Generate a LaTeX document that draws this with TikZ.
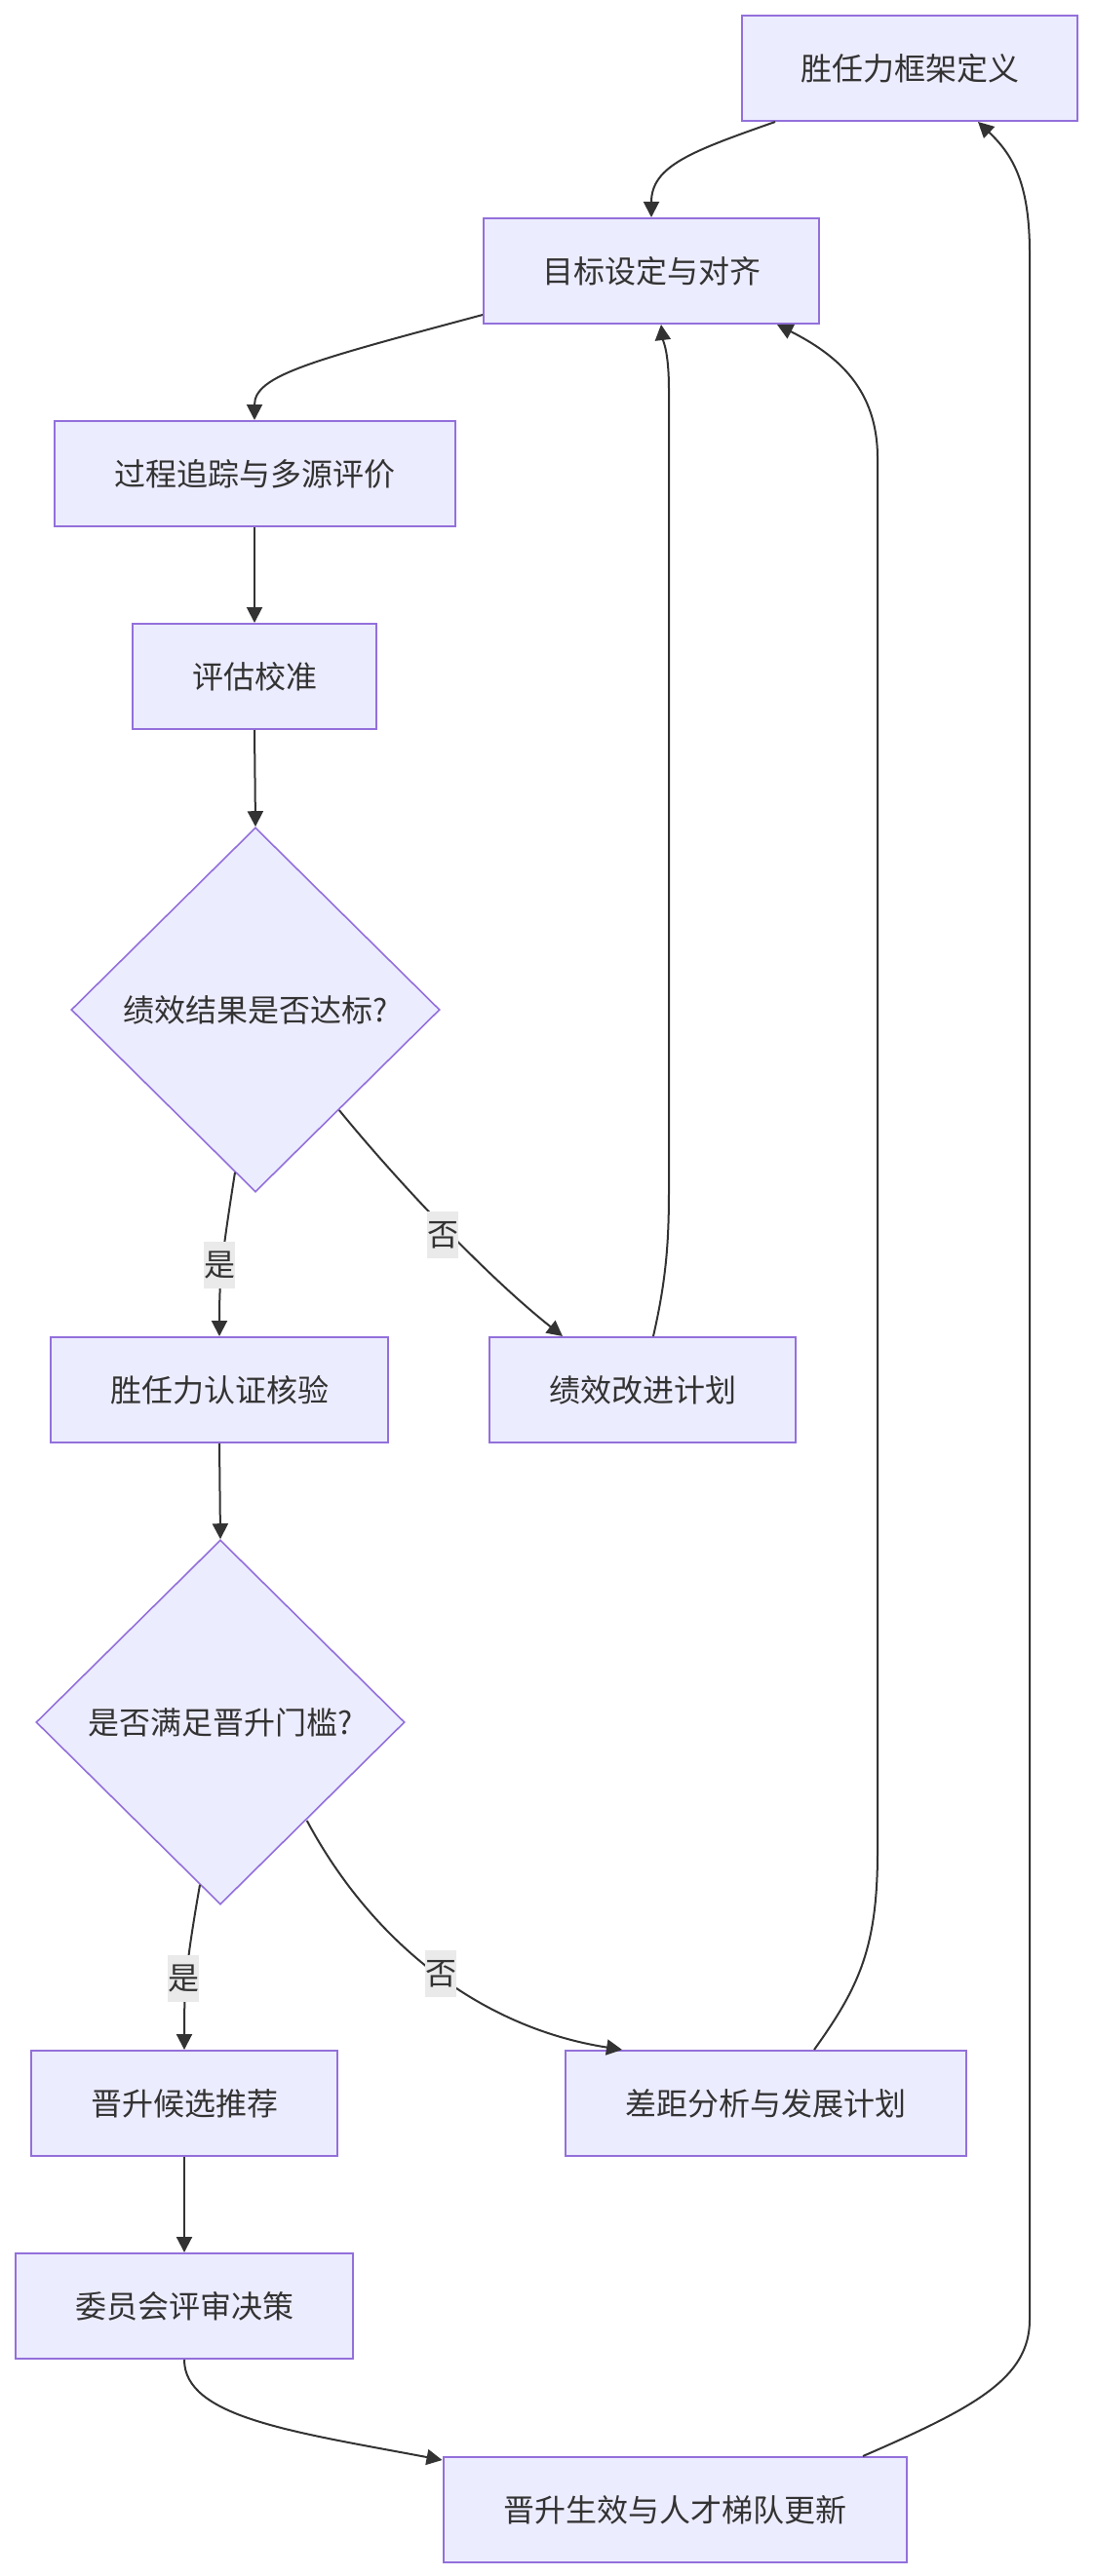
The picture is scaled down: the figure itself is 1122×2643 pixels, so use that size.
\documentclass[tikz,border=0pt]{standalone}
\usepackage{fontspec}
\newfontfamily\cjk{Noto Sans CJK SC}
\usetikzlibrary{shapes.geometric,arrows.meta,calc}
\definecolor{nodefill}{HTML}{ECECFF}
\definecolor{nodeborder}{HTML}{9370DB}
\definecolor{linecol}{HTML}{333333}
\definecolor{lblbg}{HTML}{EAEAEA}
\begin{document}
\begin{tikzpicture}[x=0.5pt,y=-0.5pt,
  txt/.style={font=\cjk\fontsize{16}{19}\selectfont,text=linecol},
  box/.style={txt,draw=nodeborder,fill=nodefill,line width=1pt,minimum height=54pt,inner sep=0pt},
  decision/.style={txt,diamond,draw=nodeborder,fill=nodefill,line width=0.8pt,inner sep=0pt,minimum width=189pt,minimum height=187pt},
  flow/.style={draw=linecol,line width=1pt,-{Triangle[length=8pt,width=8pt]}},
  lbl/.style={txt,fill=lblbg,inner sep=0pt,minimum width=16pt,minimum height=24pt}]
\fill[white] (0,0) rectangle (1122,2643);
\useasboundingbox (0,0) rectangle (1122,2643);

\node[box,minimum width=172pt] (A) at (933,70) {胜任力框架定义};
\node[box,minimum width=172pt] (B) at (668,278) {目标设定与对齐};
\node[box,minimum width=205.5pt] (C) at (261,486) {过程追踪与多源评价};
\node[box,minimum width=125pt] (D) at (261,694) {评估校准};
\node[decision] (E) at (262,1036) {绩效结果是否达标?};
\node[box,minimum width=173pt] (F) at (225,1426) {胜任力认证核验};
\node[box,minimum width=157pt] (G) at (659,1426) {绩效改进计划};
\node[decision] (H) at (226,1767) {是否满足晋升门槛?};
\node[box,minimum width=157pt] (I) at (189,2158) {晋升候选推荐};
\node[box,minimum width=205.5pt] (J) at (785,2158) {差距分析与发展计划};
\node[box,minimum width=173pt] (K) at (189,2366) {委员会评审决策};
\node[box,minimum width=237.5pt] (L) at (692,2575) {晋升生效与人才梯队更新};

% A -> B
\draw[flow] ($(A.south)+(-138,0)$) .. controls (710,155) and (668,170) .. (B.north);
% B -> C
\draw[flow] ($(B.south west)+(0,-10)$) .. controls (320,370) and (261,385) .. (C.north);
% C -> D, D -> E
\draw[flow] (C.south) -- (D.north);
\draw[flow] (D.south) -- (E.north);
% E -> F (yes)
\draw[flow] ($(E.south)+(-21,-21)$) .. controls (227,1292) and (225,1312) .. (F.north);
% E -> G (no)
\draw[flow] ($(E.east)+(-104,103)$) .. controls (410,1215) and (500,1310) .. ($(G.north)+(-82,0)$);
% G -> B
\draw[flow] ($(G.north)+(11,0)$) .. controls (684,1310) and (686,1270) .. (686,1220) -- (686,400) .. controls (686,360) and (680,350) .. ($(B.south)+(10,0)$);
% F -> H
\draw[flow] (F.south) -- (H.north);
% H -> I (yes)
\draw[flow] ($(H.south)+(-21,-21)$) .. controls (190,2020) and (189,2040) .. (I.north);
% H -> J (no)
\draw[flow] ($(H.east)+(-101,101)$) .. controls (380,1990) and (490,2080) .. ($(J.north)+(-147,0)$);
% J -> B
\draw[flow] ($(J.north)+(50,0)$) .. controls (880,2040) and (900,2000) .. (900,1900) -- (900,470) .. controls (900,400) and (860,365) .. ($(B.south)+(129,0)$);
% I -> K
\draw[flow] (I.south) -- (K.north);
% K -> L
\draw[flow] (K.south) .. controls (189,2480) and (300,2495) .. ($(L.north west)+(0,4)$);
% L -> A
\draw[flow] ($(L.north)+(193,0)$) .. controls (1000,2470) and (1056,2440) .. (1056,2380) -- (1056,260) .. controls (1056,190) and (1040,160) .. ($(A.south)+(70,0)$);

% edge labels
\node[lbl] (y1) at (225,1298) {是};
\node[lbl] (n1) at (454,1267) {否};
\node[lbl] (y2) at (188,2030) {是};
\node[lbl] (n2) at (452,2025) {否};
\end{tikzpicture}
\end{document}
